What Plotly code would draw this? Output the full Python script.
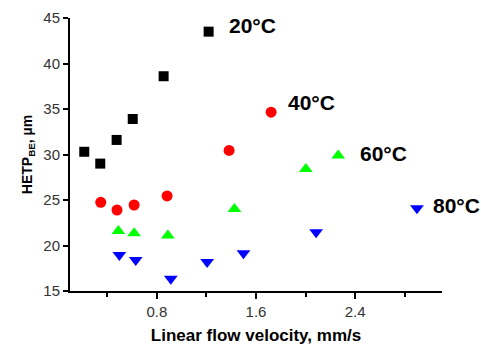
import plotly.graph_objects as go

# Data
x_20 = [0.215, 0.344, 0.476, 0.606, 0.855, 1.218]
y_20 = [30.3, 29.0, 31.6, 33.9, 38.6, 43.5]

x_40 = [0.348, 0.479, 0.617, 0.883, 1.383, 1.722]
y_40 = [24.75, 23.9, 24.45, 25.45, 30.45, 34.65]

x_60 = [0.490, 0.617, 0.889, 1.426, 2.002, 2.263]
y_60 = [21.6, 21.35, 21.1, 24.0, 28.4, 29.9]

x_80 = [0.498, 0.630, 0.913, 1.206, 1.499, 2.085, 2.898]
y_80 = [18.95, 18.4, 16.35, 18.2, 19.15, 21.45, 24.1]

labels = ["20°C", "40°C", "60°C", "80°C"]
label_x = [1.367, 1.843, 2.424, 3.011]
label_y = [44.2, 35.66, 30.16, 24.45]

FONT = "Liberation Sans, Arial, sans-serif"

fig = go.Figure()
series = [
    (x_20, y_20, "square", "#000000", 10),
    (x_40, y_40, "circle", "#ff0000", 11),
    (x_60, y_60, "triangle-up", "#00ff00", 12),
    (x_80, y_80, "triangle-down", "#0000ff", 12),
]
for xs, ys, sym, col, sz in series:
    fig.add_trace(go.Scatter(
        x=xs, y=ys, mode="markers", cliponaxis=False,
        marker=dict(symbol=sym, color=col, size=sz, line=dict(width=0)),
        showlegend=False,
    ))

for t, lx, ly in zip(labels, label_x, label_y):
    fig.add_annotation(x=lx, y=ly, text="<b>%s</b>" % t, showarrow=False,
                       xanchor="left", yanchor="middle",
                       font=dict(family=FONT, size=21, color="#000000"))

fig.update_layout(
    template="none",
    width=481, height=345,
    margin=dict(l=70, r=39, t=18, b=54, pad=0, autoexpand=False),
    paper_bgcolor="white", plot_bgcolor="white",
    font=dict(family=FONT, color="#333333"),
    xaxis=dict(
        automargin=False,
        range=[0.1, 3.1], tick0=0, dtick=0.8, ticks="outside", ticklen=6, tickwidth=1.5,
        tickcolor="#000000", showgrid=False, zeroline=False,
        showline=True, linecolor="#000000", linewidth=2,
        tickfont=dict(family=FONT, size=15, color="#333333"),
        minor=dict(tick0=0, dtick=0.4, ticks="outside", ticklen=4, tickwidth=1.5, tickcolor="#000000", showgrid=False),
        title=dict(text="<b>Linear flow velocity, mm/s</b>", standoff=12,
                   font=dict(family=FONT, size=17, color="#000000")),
    ),
    yaxis=dict(
        automargin=False,
        range=[15, 45], tick0=15, dtick=5, ticks="outside", ticklen=5, tickwidth=1.5,
        tickcolor="#000000", showgrid=False, zeroline=False,
        showline=True, linecolor="#000000", linewidth=2,
        tickfont=dict(family=FONT, size=15, color="#333333"),
        title=dict(text="<b>HETP<sub>BE</sub>, µm</b>", standoff=7,
                   font=dict(family=FONT, size=14, color="#000000")),
    ),
)

fig.write_html("out.html", config={"displayModeBar": False},
               post_script="document.body.style.margin='0';document.body.style.padding='0';")
